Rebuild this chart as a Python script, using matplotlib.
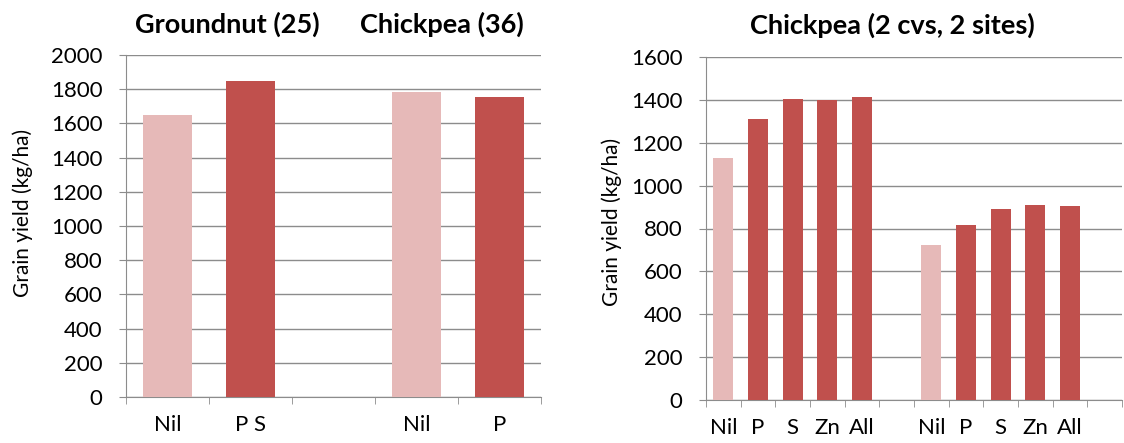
import numpy as np
import matplotlib
matplotlib.use("Agg")
import matplotlib.pyplot as plt

plt.rcParams['font.family'] = ['Lato', 'DejaVu Sans']

# left chart: groundnut and chickpea (blank slot between the groups)
left_labels = ['Nil', 'P S', '', 'Nil', 'P']
left_values = [1650, 1848, np.nan, 1785, 1754]
left_colors = ['#E6B9B8', '#C0504D', '#C0504D', '#E6B9B8', '#C0504D']

# right chart: chickpea, 2 cvs, 2 sites
right_labels = ['Nil', 'P', 'S', 'Zn', 'All', '', 'Nil', 'P', 'S', 'Zn', 'All', '']
right_values = [1127, 1312, 1403, 1400, 1414, np.nan, 721, 815, 891, 908, 904, np.nan]
right_colors = ['#E6B9B8'] + ['#C0504D'] * 5 + ['#E6B9B8'] + ['#C0504D'] * 5

grid_col = '#8C8C8C'
W, H = 1124, 443


def style_axis(ax, labels, values, colors, ymax, step):
    x = np.arange(len(labels))
    ax.bar(x, np.nan_to_num(values), width=0.58, color=colors, zorder=3)
    ax.set_xlim(-0.5, len(labels) - 0.5)
    ax.set_ylim(0, ymax)
    ax.set_yticks(np.arange(0, ymax + 1, step))
    ax.set_xticks(x)
    ax.set_xticklabels(labels, fontsize=16)
    ax.set_xticks(np.arange(-0.5, len(labels)), minor=True)
    ax.tick_params(axis='x', which='major', length=0, pad=13)
    ax.tick_params(axis='x', which='minor', length=5, color=grid_col, direction='out')
    ax.tick_params(axis='y', length=5, color=grid_col, labelsize=16, pad=12)
    ax.yaxis.grid(True, color=grid_col, linewidth=1, zorder=0)
    ax.set_axisbelow(True)
    for s in ['top', 'right']:
        ax.spines[s].set_visible(False)
    for s in ['left', 'bottom']:
        ax.spines[s].set_color(grid_col)


fig = plt.figure(figsize=(W / 100, H / 100), dpi=100)
ax1 = fig.add_axes([126 / W, 1 - 397 / H, (541 - 126) / W, (397 - 55) / H])
ax2 = fig.add_axes([706 / W, 1 - 400 / H, (1122 - 706) / W, (400 - 57) / H])

style_axis(ax1, left_labels, left_values, left_colors, 2000, 200)
style_axis(ax2, right_labels, right_values, right_colors, 1600, 200)

fig.text(23 / W, 1 - 213 / H, 'Grain yield (kg/ha)', rotation=90,
         ha='center', va='center', fontsize=15)
fig.text(612 / W, 1 - 222 / H, 'Grain yield (kg/ha)', rotation=90,
         ha='center', va='center', fontsize=15)

fig.text(227 / W, 1 - 24 / H, 'Groundnut (25)', ha='center', va='center',
         fontsize=19.5, fontweight='bold')
fig.text(442 / W, 1 - 24 / H, 'Chickpea (36)', ha='center', va='center',
         fontsize=19.5, fontweight='bold')
fig.text(892 / W, 1 - 25 / H, 'Chickpea (2 cvs, 2 sites)', ha='center', va='center',
         fontsize=19.5, fontweight='bold')

fig.savefig('out.png', dpi=100)
